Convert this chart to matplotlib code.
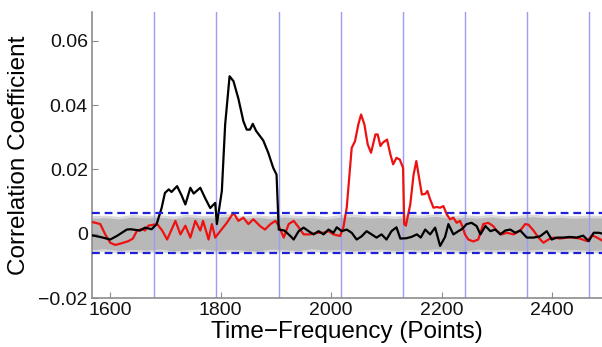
import matplotlib.pyplot as plt
import numpy as np

plt.rcParams["font.family"] = ["Liberation Sans", "DejaVu Sans"]

# black trace
black_x = [1564, 1582, 1600, 1612, 1630, 1637, 1654, 1663, 1675, 1684, 1693, 1699, 1706,
           1711, 1721, 1729, 1736, 1745, 1751, 1763, 1772, 1781, 1790, 1793, 1802, 1808,
           1816, 1823, 1832, 1841, 1847, 1853, 1858, 1864, 1871, 1877, 1886, 1895, 1901,
           1905, 1915, 1926, 1932, 1941, 1950, 1959, 1968, 1977, 1986, 1995, 2004, 2010,
           2019, 2028, 2037, 2046, 2055, 2064, 2073, 2082, 2091, 2100, 2109, 2118, 2125,
           2136, 2145, 2155, 2162, 2170, 2179, 2188, 2197, 2206, 2212, 2221, 2230, 2237,
           2245, 2254, 2263, 2270, 2279, 2288, 2297, 2306, 2315, 2324, 2333, 2342, 2354,
           2366, 2378, 2390, 2399, 2408, 2420, 2432, 2444, 2456, 2466, 2475, 2484, 2492]
black_y = [-0.0004, -0.0010, -0.0018, -0.0007, 0.0013, 0.0014, 0.0010, 0.0019, 0.0014,
           0.0030, 0.0080, 0.0127, 0.0138, 0.0130, 0.0148, 0.0120, 0.0091, 0.0143, 0.0125,
           0.0143, 0.0110, 0.0080, 0.0096, 0.0030, 0.0133, 0.0340, 0.0490, 0.0475, 0.0420,
           0.0350, 0.0324, 0.0324, 0.0342, 0.0320, 0.0304, 0.0290, 0.0252, 0.0205, 0.0184,
           0.0013, 0.0010, -0.0007, -0.0018, 0.0008, 0.0019, 0.0008, -0.0002, 0.0008,
           -0.0002, 0.0013, 0.0003, 0.0020, 0.0008, 0.0013, 0.0003, -0.0018, -0.0008,
           0.0008, -0.0002, -0.0012, -0.0002, -0.0018, 0.0008, 0.0020, -0.0015, -0.0014,
           -0.0010, -0.0002, -0.0012, 0.0013, -0.0002, 0.0019, -0.0038, -0.0010, 0.0030,
           -0.0002, 0.0008, 0.0015, 0.0030, 0.0034, 0.0024, -0.0002, 0.0024, 0.0008,
           0.0013, -0.0002, 0.0010, 0.0013, 0.0003, 0.0010, -0.0012, -0.0012, -0.0008,
           0.0008, -0.0018, -0.0012, -0.0012, -0.0010, -0.0012, -0.0006, -0.0023, 0.0003,
           0.0003, 0.0000]

# red trace
red_x = [1564, 1569, 1582, 1591, 1600, 1609, 1620, 1633, 1641, 1648, 1657, 1663, 1669,
         1678, 1685, 1694, 1703, 1718, 1727, 1736, 1745, 1754, 1763, 1768, 1778, 1784,
         1790, 1799, 1811, 1823, 1832, 1841, 1850, 1859, 1871, 1880, 1890, 1899, 1905,
         1914, 1923, 1932, 1941, 1950, 1962, 1974, 1986, 1995, 2004, 2016, 2022, 2028,
         2037, 2043, 2049, 2054, 2060, 2066, 2072, 2080, 2084, 2089, 2093, 2101, 2107,
         2112, 2118, 2124, 2130, 2132, 2135, 2143, 2149, 2154, 2158, 2164, 2170, 2174,
         2179, 2185, 2191, 2197, 2203, 2209, 2215, 2221, 2227, 2233, 2237, 2242, 2248,
         2257, 2266, 2275, 2284, 2293, 2299, 2308, 2318, 2330, 2342, 2351, 2357, 2366,
         2375, 2384, 2393, 2402, 2414, 2426, 2438, 2450, 2463, 2472, 2481, 2492]
red_y = [0.0034, 0.0036, 0.0030, -0.0002, -0.0028, -0.0035, -0.0030, -0.0023, -0.0015,
         0.0008, 0.0015, 0.0010, 0.0025, 0.0028, 0.0030, 0.0010, -0.0018, 0.0040, -0.0002,
         0.0025, -0.0012, 0.0040, 0.0010, 0.0040, -0.0018, 0.0030, -0.0012, 0.0008,
         0.0034, 0.0065, 0.0040, 0.0050, 0.0030, 0.0045, 0.0024, 0.0013, 0.0030, 0.0040,
         0.0025, -0.0012, 0.0030, 0.0040, 0.0020, -0.0002, -0.0002, 0.0003, 0.0003,
         0.0008, -0.0002, -0.0007, 0.0020, 0.0081, 0.0267, 0.0288, 0.0340, 0.0371,
         0.0340, 0.0278, 0.0252, 0.0309, 0.0309, 0.0273, 0.0283, 0.0293, 0.0247, 0.0216,
         0.0236, 0.0231, 0.0205, 0.0030, 0.0025, 0.0091, 0.0184, 0.0226, 0.0184, 0.0122,
         0.0124, 0.0133, 0.0107, 0.0081, 0.0083, 0.0081, 0.0086, 0.0060, 0.0045, 0.0050,
         0.0034, 0.0040, 0.0024, -0.0002, -0.0018, -0.0024, -0.0018, 0.0030, 0.0034,
         0.0024, 0.0010, -0.0002, 0.0003, -0.0002, 0.0010, 0.0030, 0.0028, 0.0010,
         -0.0012, -0.0028, -0.0018, -0.0012, -0.0015, -0.0012, -0.0012, -0.0015, -0.0023,
         -0.0005, -0.0012, -0.0023]

# grey surrogate band envelope
band_x = [1564, 1590, 1615, 1640, 1665, 1690, 1715, 1740, 1765, 1790, 1815, 1840, 1865,
          1890, 1915, 1940, 1965, 1990, 2015, 2040, 2065, 2090, 2115, 2140, 2165, 2190,
          2215, 2240, 2265, 2290, 2315, 2340, 2365, 2390, 2415, 2440, 2465, 2492]
band_hi = [0.0048, 0.0050, 0.0046, 0.0052, 0.0049, 0.0051, 0.0047, 0.0053, 0.0049,
           0.0050, 0.0054, 0.0048, 0.0051, 0.0047, 0.0052, 0.0049, 0.0050, 0.0046, 0.0051,
           0.0053, 0.0049, 0.0050, 0.0047, 0.0052, 0.0050, 0.0054, 0.0048, 0.0051, 0.0049,
           0.0052, 0.0047, 0.0050, 0.0053, 0.0049, 0.0051, 0.0048, 0.0050, 0.0049]
band_lo = [-0.0050, -0.0047, -0.0052, -0.0049, -0.0051, -0.0048, -0.0053, -0.0050,
           -0.0047, -0.0052, -0.0049, -0.0051, -0.0054, -0.0048, -0.0050, -0.0052,
           -0.0047, -0.0051, -0.0049, -0.0053, -0.0050, -0.0048, -0.0052, -0.0049,
           -0.0051, -0.0047, -0.0050, -0.0053, -0.0048, -0.0051, -0.0049, -0.0052,
           -0.0050, -0.0047, -0.0051, -0.0049, -0.0052, -0.0050]

segment_bounds = [1680, 1792, 1905, 2017, 2130, 2242, 2355, 2467]
threshold_hi = 0.0065
threshold_lo = -0.006

y_ticks = [-0.02, 0, 0.02, 0.04, 0.06]
y_labels = ["\u22120.02", "0", "0.02", "0.04", "0.06"]
x_ticks = [1600, 1800, 2000, 2200, 2400]

fig = plt.figure(figsize=(6.02, 3.47), dpi=100)
ax = fig.add_axes([0.1528, 0.1412, 0.8472, 0.8242])

ax.fill_between(band_x, np.array(band_hi) + 0.0008, np.array(band_lo) - 0.0008,
                color="#dadada", lw=0, zorder=1)
ax.fill_between(band_x, band_hi, band_lo, color="#b8b8b8", lw=0, zorder=1)

for xb in segment_bounds:
    ax.axvline(xb, color="#9c9cf0", lw=1.0, zorder=2)

ax.plot(red_x, red_y, color="#ee1111", lw=1.6, zorder=3)
ax.plot(black_x, black_y, color="black", lw=1.6, zorder=4)

for thr in (threshold_hi, threshold_lo):
    ax.axhline(thr, color="#2020d8", lw=1.6, dashes=(3.5, 2.2), zorder=5)

ax.set_xlim(1567, 2490)
ax.set_ylim(-0.02, 0.069)
ax.set_xticks(x_ticks)
ax.set_yticks(y_ticks)
ax.set_yticklabels(y_labels)

for side in ("top", "right"):
    ax.spines[side].set_visible(False)
for side in ("left", "bottom"):
    ax.spines[side].set_color("#8c8c8c")
    ax.spines[side].set_linewidth(1.2)
ax.tick_params(direction="in", length=4, width=0.8, color="#8c8c8c",
               labelsize=14, labelcolor="#111111", pad=3)

ax.set_xlabel("Time\u2212Frequency (Points)", fontsize=17.5, labelpad=1)
ax.set_ylabel("Correlation Coefficient", fontsize=17.5, labelpad=6)

fig.savefig("out.png", dpi=100)
